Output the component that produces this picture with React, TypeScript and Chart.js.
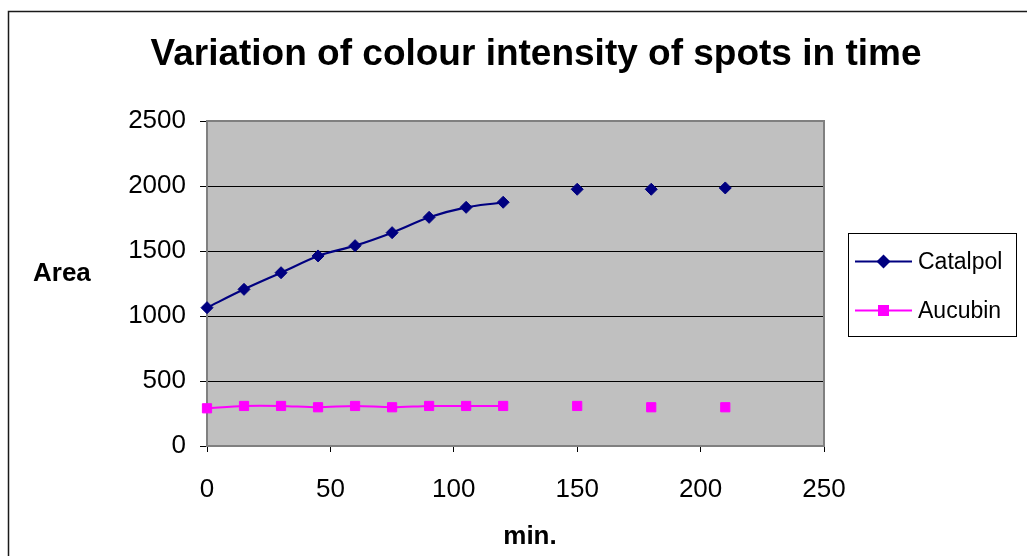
import React, { useEffect, useRef } from "react";
import { Chart, registerables } from "chart.js";

Chart.register(...registerables);

// Sampling times (min.) and measured spot areas
const TIMES = [0, 15, 30, 45, 60, 75, 90, 105, 120, 150, 180, 210];
const CATALPOL = [1064, 1205, 1333, 1462, 1541, 1641, 1759, 1836, 1875, 1975, 1975, 1985];
const AUCUBIN = [290, 308, 308, 298, 308, 298, 308, 308, 308, 308, 298, 298];
const SERIES_NAMES = ["Catalpol", "Aucubin"];
const SERIES_COLORS = ["#000080", "#FF00FF"];
const TITLE = "Variation of colour intensity of spots in time";
const X_TITLE = "min.";
const Y_TITLE = "Area";
// Readings after this time were taken separately and are not joined by the curve
const LAST_JOINED = 120;

const FONT = "'Liberation Sans', Arial, Helvetica, sans-serif";

const decorPlugin = {
  id: "decor",
  beforeDraw(chart: any) {
    const { ctx, chartArea, width, height } = chart;
    ctx.save();
    ctx.fillStyle = "#ffffff";
    ctx.fillRect(0, 0, width, height);
    // outer chart frame
    ctx.strokeStyle = "#1a1a1a";
    ctx.lineWidth = 1.5;
    ctx.strokeRect(8.5, 11.5, width + 40, height + 40);
    // plot area
    ctx.fillStyle = "#C0C0C0";
    ctx.fillRect(chartArea.left, chartArea.top, chartArea.right - chartArea.left, chartArea.bottom - chartArea.top);
    ctx.restore();
  },
  beforeDatasetsDraw(chart: any) {
    const { ctx, chartArea } = chart;
    ctx.save();
    ctx.strokeStyle = "#808080";
    ctx.lineWidth = 2;
    ctx.strokeRect(chartArea.left, chartArea.top, chartArea.right - chartArea.left, chartArea.bottom - chartArea.top);
    ctx.restore();
  },
  afterDraw(chart: any) {
    const { ctx } = chart;
    ctx.save();
    ctx.fillStyle = "#000";
    // title
    ctx.font = `bold 37px ${FONT}`;
    ctx.textAlign = "center";
    ctx.textBaseline = "middle";
    ctx.fillText(TITLE, 536, 55);
    // axis titles
    ctx.font = `bold 26px ${FONT}`;
    ctx.textAlign = "left";
    ctx.textBaseline = "alphabetic";
    ctx.fillText(Y_TITLE, 33, 281);
    ctx.textAlign = "center";
    ctx.fillText(X_TITLE, 530, 544);

    // legend box
    const bx = 848, by = 233, bw = 168, bh = 103;
    ctx.strokeStyle = "#000";
    ctx.lineWidth = 1;
    ctx.strokeRect(bx + 0.5, by + 0.5, bw, bh);
    const rows = [261.5, 310.5];
    chart.data.datasets.forEach((ds: any, i: number) => {
      const y = rows[i];
      ctx.strokeStyle = ds.borderColor;
      ctx.lineWidth = 2;
      ctx.beginPath();
      ctx.moveTo(855, y);
      ctx.lineTo(912, y);
      ctx.stroke();
      ctx.fillStyle = ds.backgroundColor;
      ctx.beginPath();
      if (ds.pointStyle === "rectRot") {
        const r = 7;
        ctx.moveTo(883.5, y - r);
        ctx.lineTo(883.5 + r, y);
        ctx.lineTo(883.5, y + r);
        ctx.lineTo(883.5 - r, y);
        ctx.closePath();
      } else {
        ctx.rect(883.5 - 5.5, y - 5.5, 11, 11);
      }
      ctx.fill();
      ctx.fillStyle = "#000";
      ctx.font = `23px ${FONT}`;
      ctx.textAlign = "left";
      ctx.textBaseline = "middle";
      ctx.fillText(ds.label, 918, y + 1);
    });
    ctx.restore();
  },
};

const hideLateSegments = {
  borderColor: (c: any) => (c.p0.parsed.x >= LAST_JOINED ? "rgba(0,0,0,0)" : undefined),
};

export default function App() {
  const canvasRef = useRef<HTMLCanvasElement | null>(null);

  useEffect(() => {
    const canvas = canvasRef.current;
    if (!canvas) return;
    const chart = new Chart(canvas, {
      type: "line",
      data: {
        datasets: [
          {
            label: SERIES_NAMES[0],
            data: TIMES.map((t, i) => ({ x: t, y: CATALPOL[i] })),
            borderColor: SERIES_COLORS[0],
            backgroundColor: SERIES_COLORS[0],
            pointStyle: "rectRot",
            pointRadius: 6,
            pointBorderWidth: 1,
            borderWidth: 2.2,
            tension: 0.3,
            segment: hideLateSegments,
            clip: false,
          } as any,
          {
            label: SERIES_NAMES[1],
            data: TIMES.map((t, i) => ({ x: t, y: AUCUBIN[i] })),
            borderColor: SERIES_COLORS[1],
            backgroundColor: SERIES_COLORS[1],
            pointStyle: "rect",
            pointRadius: 6.5,
            pointBorderWidth: 1,
            borderWidth: 2,
            tension: 0.3,
            segment: hideLateSegments,
            clip: false,
          } as any,
        ],
      },
      options: {
        animation: false,
        responsive: false,
        maintainAspectRatio: false,
        layout: { padding: { top: 121, right: 203, bottom: 0, left: 0 } },
        plugins: {
          legend: { display: false },
          title: { display: false },
          tooltip: { enabled: false },
        },
        scales: {
          x: {
            type: "linear",
            min: 0,
            max: 250,
            ticks: {
              stepSize: 50,
              color: "#000",
              padding: 22,
              font: { family: FONT, size: 26 },
              callback: (v: any) => String(v),
            },
            grid: {
              drawOnChartArea: false,
              drawTicks: true,
              tickLength: 6,
              tickColor: "#000",
            },
            border: { color: "#808080", width: 2 },
            afterFit: (s: any) => {
              s.height = 110;
            },
          },
          y: {
            type: "linear",
            min: 0,
            max: 2500,
            ticks: {
              stepSize: 500,
              color: "#000",
              padding: 14,
              font: { family: FONT, size: 26 },
              callback: (v: any) => String(v),
            },
            grid: {
              color: "#000",
              lineWidth: 1,
              drawTicks: true,
              tickLength: 7,
              tickColor: "#000",
            },
            border: { color: "#808080", width: 2 },
            afterFit: (s: any) => {
              s.width = 207;
            },
          },
        },
      },
      plugins: [decorPlugin],
    });
    return () => chart.destroy();
  }, []);

  return (
    <div style={{ position: "fixed", left: 0, top: 0, width: 1027, height: 556, background: "#fff" }}>
      <canvas ref={canvasRef} width={1027} height={556} style={{ display: "block" }} />
    </div>
  );
}
